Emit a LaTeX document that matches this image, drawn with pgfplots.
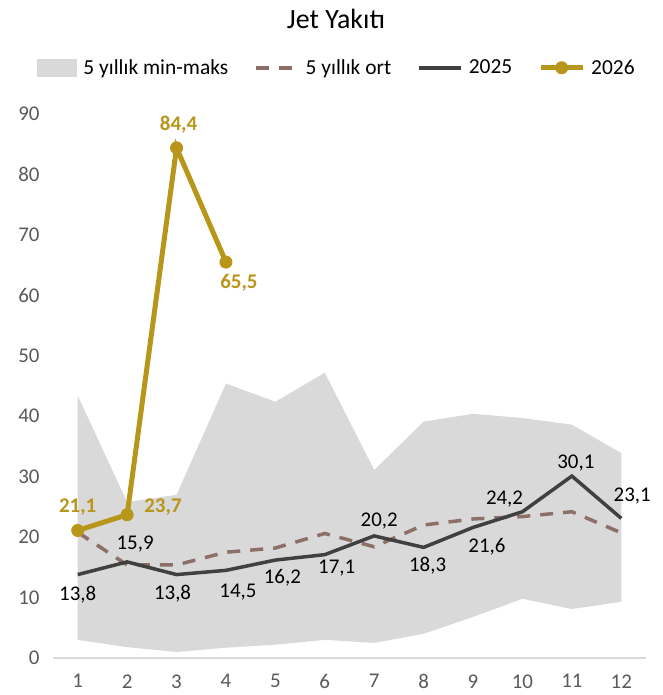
\documentclass[border=0pt]{standalone}
\usepackage{fontspec}
\setmainfont{Carlito}
\usepackage{pgfplots}
\usepackage{pgfplotstable}
\pgfplotsset{compat=1.18}
\usepgfplotslibrary{fillbetween}

\definecolor{bandc}{HTML}{D9D9D9}
\definecolor{avgc}{HTML}{8C7068}
\definecolor{c25}{HTML}{404040}
\definecolor{c26}{HTML}{B8961A}
\definecolor{tickc}{HTML}{595959}

% 5 year band and average
\pgfplotstableread{
x mn mx avg
1 3.0 43.4 20.8
2 1.8 25.8 15.4
3 1.0 27.0 15.4
4 1.7 45.4 17.5
5 2.2 42.4 18.2
6 3.0 47.2 20.6
7 2.5 31.1 18.4
8 4.0 39.1 22.0
9 6.8 40.4 23.0
10 9.8 39.7 23.4
11 8.1 38.6 24.2
12 9.3 33.9 20.7
}\bandtab

\pgfplotstableread{
x y lbl dx dy
1 13.8 13,8 0 -20
2 15.9 15,9 8 18
3 13.8 13,8 -4 -19
4 14.5 14,5 12 -22
5 16.2 16,2 7 -18
6 17.1 17,1 12 -14
7 20.2 20,2 5 15
8 18.3 18,3 4 -18
9 21.6 21,6 14 -19
10 24.2 24,2 -18 13
11 30.1 30,1 4 13
12 23.1 23,1 11 22
}\yrA

\pgfplotstableread{
x y lbl dx dy
1 21.1 21,1 0 23
2 23.7 23,7 36 8
3 84.4 84,4 2 23
4 65.5 65,5 13 -21
}\yrB

\pgfplotsset{
  labelplot/.style={only marks, mark=none, forget plot,
    nodes near coords, point meta=explicit symbolic,
    nodes near coords align={anchor=center},
    visualization depends on={\thisrow{dx}\as\dx},
    visualization depends on={\thisrow{dy}\as\dy},
    every node near coord/.append style={xshift=\dx, yshift=\dy}},
  linelegend/.style={legend image code/.code={\draw[##1] (0bp,0bp) -- (42bp,0bp);}},
  marklegend/.style={legend image code/.code={%
    \draw[##1, mark repeat=2, mark phase=2] plot coordinates {(0bp,0bp) (21bp,0bp) (42bp,0bp)};}},
  bandlegend/.style={legend image code/.code={\fill[bandc] (0bp,-9bp) rectangle (40bp,9bp);}},
}

\begin{document}
\begin{tikzpicture}
\begin{axis}[
  at={(53bp,37bp)}, anchor=south west,
  scale only axis, width=593bp, height=544bp,
  xmin=0.5, xmax=12.5, ymin=0, ymax=90,
  axis lines*=left,
  y axis line style={draw=none},
  x axis line style={draw=bandc, line width=1.2bp},
  xtick={1,...,12}, ytick={0,10,...,90},
  tick style={draw=none},
  ticklabel style={font=\fontsize{21}{24}\selectfont, text=tickc},
  xticklabel style={yshift=-13bp},
  yticklabel style={xshift=-10bp},
  /pgf/number format/assume math mode=true,
  clip=false,
  legend columns=4,
  legend style={at={(0.479,1.085)}, anchor=center, draw=none, fill=none,
    font=\fontsize{21.5}{25}\selectfont,
    /tikz/every even column/.append style={column sep=24bp},
    /tikz/every odd column/.append style={column sep=4bp}},
  linelegend,
]
\addplot[name path=mx, draw=none, forget plot] table[x=x, y=mx] {\bandtab};
\addplot[name path=mn, draw=none, forget plot] table[x=x, y=mn] {\bandtab};
\addplot[fill=bandc, draw=none, bandlegend] fill between[of=mx and mn];
\addlegendentry{5 yıllık min-maks}

\addplot[avgc, line width=3.5bp, dash pattern=on 13bp off 10bp]
  table[x=x, y=avg] {\bandtab};
\addlegendentry{5 yıllık ort}

\addplot[c25, line width=3.5bp] table[x=x, y=y] {\yrA};
\addlegendentry{2025}

\addplot[c26, line width=5bp, mark=*, mark size=6bp,
  mark options={solid, fill=c26, line width=1bp}, marklegend]
  table[x=x, y=y] {\yrB};
\addlegendentry{2026}

\addplot[labelplot, every node near coord/.append style={text=black, font=\fontsize{21}{24}\selectfont}]
  table[x=x, y=y, meta=lbl] {\yrA};
\addplot[labelplot, every node near coord/.append style={text=c26, font=\fontsize{21}{24}\selectfont\bfseries}]
  table[x=x, y=y, meta=lbl] {\yrB};
\end{axis}
\node[font=\fontsize{28}{32}\selectfont] at (336bp,676bp) {Jet Yakıtı};
\pgfresetboundingbox
\path[use as bounding box] (0bp,0bp) rectangle (663bp,695bp);
\end{tikzpicture}
\end{document}
